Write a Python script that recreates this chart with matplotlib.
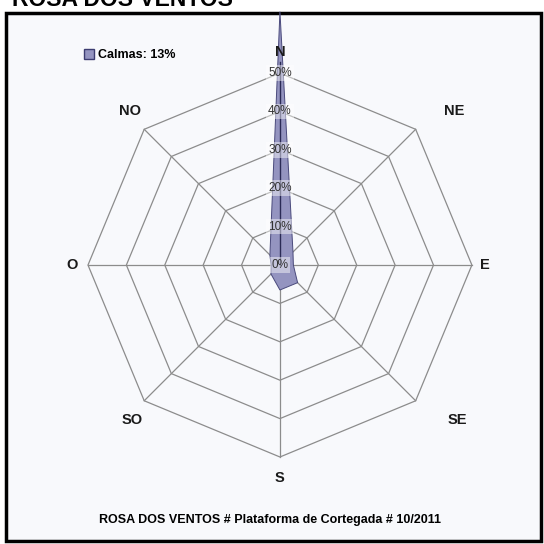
import numpy as np
import matplotlib.pyplot as plt
from matplotlib.patches import Rectangle, Patch

plt.rcParams['font.family'] = ['Liberation Sans', 'DejaVu Sans']

# wind rose data (% of observations per direction)
directions = ['N', 'NE', 'E', 'SE', 'S', 'SO', 'O', 'NO']
frequencies = [66, 4.8, 3.5, 6.5, 6.5, 3.3, 2.3, 3.7]
ring_levels = [0, 10, 20, 30, 40, 50]
ring_labels = ['0%', '10%', '20%', '30%', '40%', '50%']
calmas = 13

# offset (pixels) of each direction name from the outer ring vertex
label_off = {'N': (0, 21), 'NE': (39, 18), 'E': (13, 0), 'SE': (42, -19),
             'S': (0, -21), 'SO': (-12, -19), 'O': (-16, 0), 'NO': (-14, 18)}

W = 544
fig = plt.figure(figsize=(5.44, 5.44), dpi=100)
fig.patch.set_facecolor('white')

# chart frame
fig.patches.append(Rectangle((6 / W, 3 / W), 535 / W, 528 / W, transform=fig.transFigure,
                             facecolor='#f8f9fc', edgecolor='black', linewidth=2.5, zorder=-5))

fig.text(12 / W, 1 - 6 / W, 'ROSA DOS VENTOS', fontsize=16.5, fontweight='bold',
         ha='left', va='baseline')

ax = fig.add_axes([0.0206, 0.0188, 0.988, 0.988], projection='polar')
ax.set_facecolor('none')
ax.set_theta_zero_location('N')
ax.set_theta_direction(-1)
ax.set_ylim(0, 70)
ax.grid(False)
ax.spines['polar'].set_visible(False)
ax.set_xticks([])
ax.set_yticks([])

angles = np.deg2rad(np.arange(len(directions)) * 45)
closed = np.append(angles, angles[0])

# octagonal grid
for r in ring_levels[1:]:
    ax.plot(closed, [r] * len(closed), color='#8c8c8c', lw=0.9, zorder=1)
for a in angles:
    ax.plot([a, a], [0, ring_levels[-1]], color='#8c8c8c', lw=0.9, zorder=1)

vals = np.append(frequencies, frequencies[0])
ax.fill(closed, vals, facecolor='#9494c0', edgecolor='#4a4a7c', lw=0.7, zorder=3,
        clip_on=False)
ax.plot([0, 0], [0, ring_levels[-1] + 3], color='#2a2a55', lw=1.0, zorder=4)

for r, lab in zip(ring_levels, ring_labels):
    ax.text(0, r, lab, ha='center', va='center', fontsize=8.5, color='#333333', zorder=5,
            bbox=dict(boxstyle='square,pad=0.15', fc='white', ec='none', alpha=0.45))

for a, d in zip(angles, directions):
    dx, dy = label_off[d]
    ax.annotate(d, (a, ring_levels[-1]), xytext=(dx * 0.72, dy * 0.72),
                textcoords='offset points', ha='center', va='center',
                fontsize=10.5, fontweight='bold', color='#1a1a1a', zorder=5)

fig.legend(handles=[Patch(facecolor='#9494c0', edgecolor='#3c3c70')],
           labels=['Calmas: %d%%' % calmas], loc='upper left',
           bbox_to_anchor=(73 / W, 1 - 38 / W), frameon=False,
           prop={'weight': 'bold', 'size': 9}, handlelength=0.8, handleheight=0.8,
           handletextpad=0.3)

fig.text(270 / W, 1 - 520 / W, 'ROSA DOS VENTOS # Plataforma de Cortegada # 10/2011',
         ha='center', va='center', fontsize=9, fontweight='bold')

fig.savefig('out.png', dpi=100)
